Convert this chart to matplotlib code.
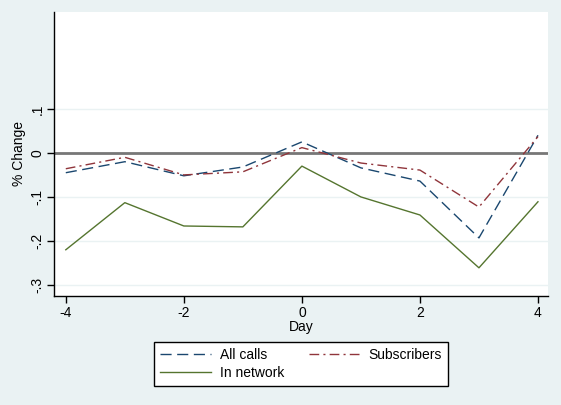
import matplotlib.pyplot as plt
from matplotlib.lines import Line2D

# ----- Data -----
days = [-4, -3, -2, -1, 0, 1, 2, 3, 4]
all_calls = [-0.045, -0.020, -0.052, -0.032, 0.025, -0.034, -0.064, -0.193, 0.040]
subscribers = [-0.036, -0.010, -0.050, -0.043, 0.012, -0.023, -0.039, -0.123, 0.037]
in_network = [-0.220, -0.113, -0.166, -0.168, -0.030, -0.100, -0.141, -0.261, -0.111]
yticks = [-0.3, -0.2, -0.1, 0.0, 0.1]
ytick_labels = ["-.3", "-.2", "-.1", "0", ".1"]
xticks = [-4, -2, 0, 2, 4]

BG = "#eaf2f3"
BLUE = "#1a476f"
RED = "#90353b"
GREEN = "#55752f"

plt.rcParams["font.family"] = "Liberation Sans"

fig = plt.figure(figsize=(5.61, 4.05), dpi=100)
fig.patch.set_facecolor(BG)
ax = fig.add_axes([54 / 561, 1 - 296 / 405, (548 - 54) / 561, (296 - 12) / 405])
ax.set_facecolor("white")

for y in yticks:
    ax.axhline(y, color=BG, linewidth=1, zorder=1)
ax.axhline(0, color="#777777", linewidth=2, zorder=2)

ax.plot(days, all_calls, color=BLUE, linewidth=1, dashes=(8, 4), zorder=3)
ax.plot(days, subscribers, color=RED, linewidth=1, dashes=(7, 3, 1.5, 3), zorder=3)
ax.plot(days, in_network, color=GREEN, linewidth=1, zorder=3)

ax.set_xlim(-4.2, 4.17)
ax.set_ylim(-0.325, 0.32)
ax.set_xticks(xticks)
ax.set_xticklabels([str(x) for x in xticks], fontsize=10)
ax.set_yticks(yticks)
ax.set_yticklabels(ytick_labels, fontsize=10, rotation=90, va="center")
ax.tick_params(axis="both", length=5, width=1, color="black", pad=2)
for s in ("top", "right"):
    ax.spines[s].set_visible(False)
for s in ("left", "bottom"):
    ax.spines[s].set_linewidth(1)
ax.set_xlabel("Day", fontsize=10, labelpad=0)
ax.set_ylabel("% Change", fontsize=10, labelpad=3)

handles = [
    Line2D([], [], color=BLUE, linewidth=1, dashes=(8, 4)),
    Line2D([], [], color=GREEN, linewidth=1),
    Line2D([], [], color=RED, linewidth=1, dashes=(7, 3, 1.5, 3)),
]
labels = ["All calls", "In network", "Subscribers"]
leg = fig.legend(
    handles, labels, ncol=2, loc="center",
    bbox_to_anchor=(301 / 561, 1 - 364 / 405),
    frameon=True, fancybox=False, edgecolor="black", facecolor="white",
    framealpha=1, fontsize=10,
    handlelength=3.7, handletextpad=0.6, columnspacing=1.8,
    borderpad=0.4, labelspacing=0.3,
)
leg.get_frame().set_linewidth(1)

fig.savefig("out.png", dpi=100, facecolor=BG)
